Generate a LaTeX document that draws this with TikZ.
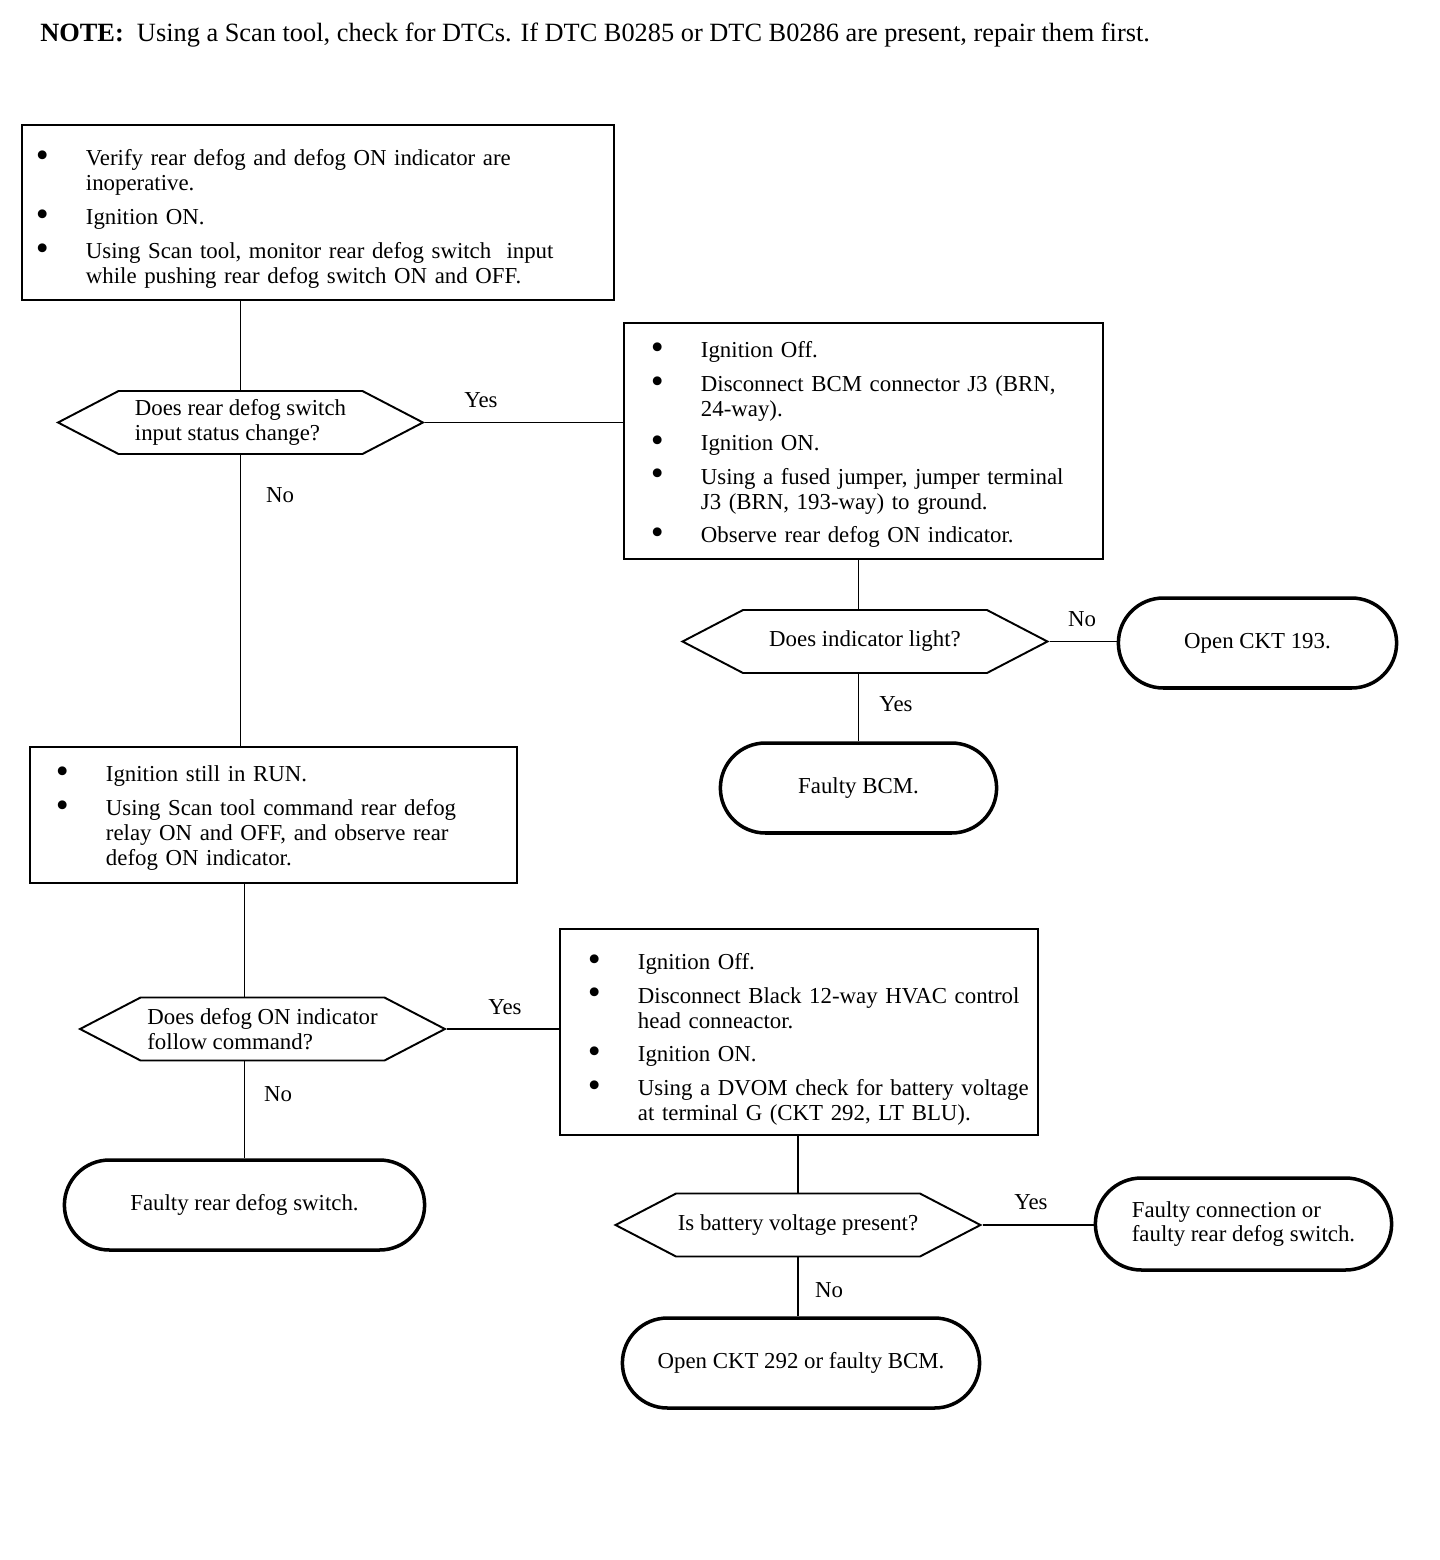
\documentclass[tikz,border=0pt]{standalone}
\usepackage{fontspec}
\setmainfont{Liberation Serif}
\usetikzlibrary{shapes.misc, shapes.symbols}

\newcommand{\bdot}{\raisebox{-1pt}{\fontsize{21}{14}\selectfont\textbullet}}

\begin{document}
\begin{tikzpicture}[
  x=0.02cm, y=-0.02cm,
  every node/.style={font=\fontsize{13}{14.2}\selectfont},
  box/.style={rectangle, draw, line width=1.1pt, align=left, inner ysep=0pt, anchor=west},
  decision/.style={signal, signal to=west and east, signal pointer angle=55, draw, line width=1.1pt,
                   minimum width=7.3cm, minimum height=1.26cm, align=left, inner sep=0pt},
  terminal/.style={rounded rectangle, draw, line width=2pt, minimum height=1.8cm, align=left},
  line/.style={line width=0.8pt},
  answer/.style={inner sep=1pt}
]
\useasboundingbox (0,0) rectangle (1440,1560);

\node[anchor=west, inner sep=0pt, font=\fontsize{15}{17}\selectfont] (note) at (40,35)
  {\textbf{NOTE:}\ \ Using a Scan tool, check for DTCs. If DTC B0285 or DTC B0286 are present, repair them first.};

% first checks
\node[box, inner xsep=0.28cm, text width=11.28cm, minimum height=3.5cm] (check) at (21,212.5)
  {\vspace*{-8pt}\begin{tabular}{@{}p{1cm}@{}l@{}}
   \bdot & Verify rear defog and defog ON indicator are\\
         & inoperative.\\[5pt]
   \bdot & Ignition ON.\\[5pt]
   \bdot & Using Scan tool, monitor rear defog switch\ \ input\\
         & while pushing rear defog switch ON and OFF.
   \end{tabular}};

\node[decision] (d1) at (240.5,422.5) {Does rear defog switch\\input status change?};

\node[box, inner xsep=0.54cm, text width=8.5cm, minimum height=4.72cm] (ign) at (623,441)
  {\vspace*{-5pt}\begin{tabular}{@{}p{1cm}@{}l@{}}
   \bdot & Ignition Off.\\[5pt]
   \bdot & Disconnect BCM connector J3 (BRN,\\
         & 24-way).\\[5pt]
   \bdot & Ignition ON.\\[5pt]
   \bdot & Using a fused jumper, jumper terminal\\
         & J3 (BRN, 193-way) to ground.\\[5pt]
   \bdot & Observe rear defog ON indicator.
   \end{tabular}};

\node[decision] (d2) at (865,641.5) {Does indicator light?};
\node[terminal, minimum width=5.8cm] (ckt) at (1257.5,643) {Open CKT 193.};
\node[terminal, minimum width=5.76cm] (bcm) at (858.5,788) {Faulty BCM.};

% relay command
\node[box, inner xsep=0.52cm, text width=8.7cm, minimum height=2.72cm] (relay) at (29,815)
  {\vspace*{-4pt}\begin{tabular}{@{}p{1cm}@{}l@{}}
   \bdot & Ignition still in RUN.\\[5pt]
   \bdot & Using Scan tool command rear defog\\
         & relay ON and OFF, and observe rear\\
         & defog ON indicator.
   \end{tabular}};

\node[decision] (d3) at (262.5,1029) {Does defog ON indicator\\follow command?};

\node[box, inner xsep=0.56cm, text width=8.44cm, minimum height=4.12cm] (hvac) at (559,1032)
  {\vspace*{-9pt}\begin{tabular}{@{}p{1cm}@{}l@{}}
   \bdot & Ignition Off.\\[5pt]
   \bdot & Disconnect Black 12-way HVAC control\\
         & head conneactor.\\[5pt]
   \bdot & Ignition ON.\\[5pt]
   \bdot & Using a DVOM check for battery voltage\\
         & at terminal G (CKT 292, LT BLU).
   \end{tabular}};

\node[terminal, minimum width=7.44cm] (sw) at (244.5,1205) {Faulty rear defog switch.};
\node[decision] (d4) at (798,1225) {Is battery voltage present?};
\node[terminal, minimum width=6.16cm, minimum height=1.84cm] (conn) at (1243.5,1224)
  {Faulty connection or\\faulty rear defog switch.};
\node[terminal, minimum width=7.38cm] (open) at (801,1363) {Open CKT 292 or faulty BCM.};

% answers
\node[answer] (y1) at (481,400) {Yes};
\node[answer] (n1) at (280,495) {No};
\node[answer] (n2) at (1082,619) {No};
\node[answer] (y2) at (896,704) {Yes};
\node[answer] (y3) at (505,1007) {Yes};
\node[answer] (n3) at (278,1094) {No};
\node[answer] (y4) at (1031,1202) {Yes};
\node[answer] (n4) at (829,1290) {No};

% connectors
\draw[line] (check.south -| d1.north) -- (d1.north);
\draw[line] (d1.east) -- (d1.east -| ign.west);
\draw[line] (d1.south) -- (d1.south |- relay.north);
\draw[line] (ign.south -| bcm.north) -- (d2.north -| bcm.north);
\draw[line] (d2.east) -- (d2.east -| ckt.west);
\draw[line] (d2.south -| bcm.north) -- (bcm.north);
\draw[line] (relay.south -| sw.north) -- (d3.north -| sw.north);
\draw[line] (d3.east) -- (d3.east -| hvac.west);
\draw[line] (d3.south -| sw.north) -- (sw.north);
\draw[line] (hvac.south -| d4.north) -- (d4.north);
\draw[line] (d4.east) -- (d4.east -| conn.west);
\draw[line] (d4.south) -- (d4.south |- open.north);

\end{tikzpicture}
\end{document}
